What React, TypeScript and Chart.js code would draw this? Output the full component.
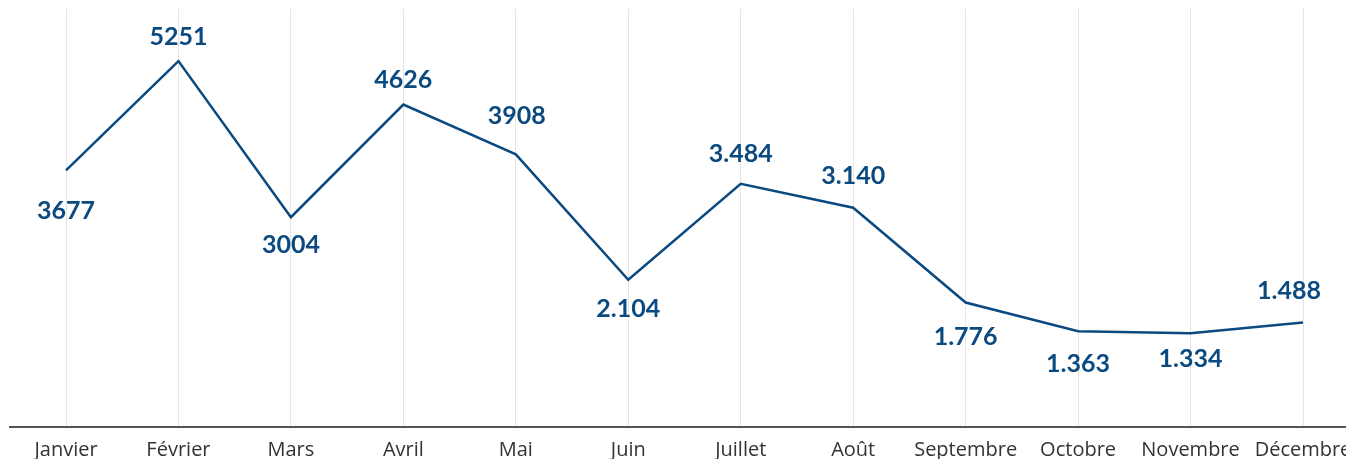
import React, { useEffect, useRef } from "react";
import { Chart, registerables } from "chart.js";

Chart.register(...registerables);

const months = ["Janvier", "Février", "Mars", "Avril", "Mai", "Juin", "Juillet", "Août", "Septembre", "Octobre", "Novembre", "Décembre"];
const values = [3677, 5251, 3004, 4626, 3908, 2104, 3484, 3140, 1776, 1363, 1334, 1488];
const valueLabels = ["3677", "5251", "3004", "4626", "3908", "2.104", "3.484", "3.140", "1.776", "1.363", "1.334", "1.488"];

const BLUE = "#0b4a80";

const labelPlugin = {
  id: "pointLabels",
  afterDatasetsDraw(chart: any, _args: any, opts: any) {
    const ctx = chart.ctx;
    const meta = chart.getDatasetMeta(0);
    ctx.save();
    ctx.font = "bold 25px Lato";
    ctx.fillStyle = BLUE;
    ctx.textAlign = "center";
    ctx.textBaseline = "middle";
    meta.data.forEach((pt: any, i: number) => {
      const off = opts.offsets[i];
      const dx = opts.dx[i] || 0;
      ctx.fillText(valueLabels[i], pt.x + dx, pt.y + off);
    });
    ctx.restore();
  },
};

const baselinePlugin = {
  id: "baseline",
  afterDatasetsDraw(chart: any) {
    const ctx = chart.ctx;
    const y = chart.chartArea.bottom;
    ctx.save();
    ctx.strokeStyle = "#555555";
    ctx.lineWidth = 2;
    ctx.beginPath();
    ctx.moveTo(1, y + 1);
    ctx.lineTo(ctx.canvas.width, y + 1);
    ctx.stroke();
    ctx.restore();
  },
};

export default function App() {
  const ref = useRef<HTMLCanvasElement>(null);
  useEffect(() => {
    document.documentElement.style.overflow = "hidden";
    document.body.style.overflow = "hidden";
    const chart = new Chart(ref.current!, {
      type: "line",
      data: {
        labels: months,
        datasets: [
          {
            data: values,
            borderColor: BLUE,
            borderWidth: 2.5,
            pointRadius: 0,
            tension: 0,
            fill: false,
          },
        ],
      },
      options: {
        responsive: false,
        animation: false,
        layout: { padding: { left: 58, right: 65, top: 1, bottom: 0 } },
        plugins: {
          legend: { display: false },
          tooltip: { enabled: false },
          pointLabels: {
            offsets: [40, -24, 28, -25, -38, 29, -30, -32, 34, 33, 26, -32],
            dx: [0, 0, 0, 0, 1, 0, 0, 0, 0, 0, 0, -14],
          },
        } as any,
        scales: {
          x: {
            offset: false,
            border: { display: false },
            grid: { color: "#e6e6e6", lineWidth: 1, drawTicks: false },
            ticks: {
              color: "#333333",
              font: { family: "'Open Sans'", size: 20 },
              padding: 12,
              maxRotation: 0,
              autoSkip: false,
            },
          },
          y: {
            display: false,
            min: 0,
            max: 6000,
          },
        },
      },
      plugins: [labelPlugin, baselinePlugin],
    });
    return () => chart.destroy();
  }, []);
  return (
    <div style={{ position: "fixed", left: 8, top: 8, width: 1338, height: 451, overflow: "hidden" }}>
      <canvas ref={ref} width={1360} height={466} style={{ display: "block" }} />
    </div>
  );
}
